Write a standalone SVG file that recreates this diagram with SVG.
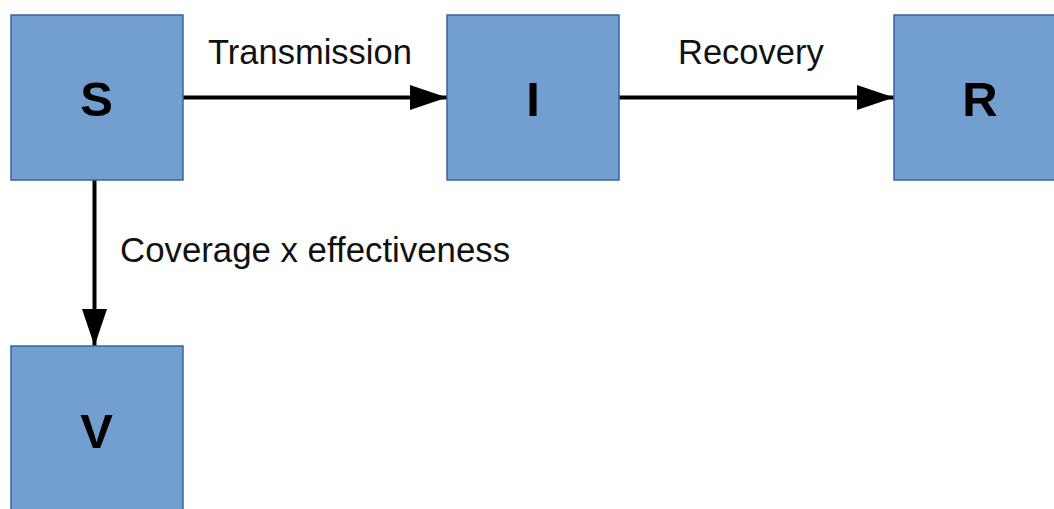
<svg xmlns="http://www.w3.org/2000/svg" width="1054" height="509" viewBox="0 0 1054 509">
  <style>
    .box { fill: #729fcf; stroke: #3465a4; stroke-width: 1.5; }
    .name { font-family: "Liberation Sans", Arial, sans-serif; font-weight: bold; font-size: 49px; fill: #000; text-anchor: middle; }
    .label { font-family: "Liberation Sans", Arial, sans-serif; font-size: 34.5px; fill: #111; }
    .edge { stroke: #000; stroke-width: 4; fill: none; }
  </style>
  <defs>
    <marker id="arrow" markerUnits="userSpaceOnUse" markerWidth="40" markerHeight="26" refX="37" refY="12.5" orient="auto">
      <path d="M0,0 L37,12.5 L0,25 Z" fill="#000"/>
    </marker>
  </defs>
  <rect width="1054" height="509" fill="#fff"/>

  <g id="connectors">
    <line class="edge" x1="183" y1="97.5" x2="447" y2="97.5" marker-end="url(#arrow)"/>
    <line class="edge" x1="619" y1="97.5" x2="894" y2="97.5" marker-end="url(#arrow)"/>
    <line class="edge" x1="94.5" y1="180" x2="94.5" y2="346" marker-end="url(#arrow)"/>
    <text class="label" x="208" y="64">Transmission</text>
    <text class="label" x="678" y="64">Recovery</text>
    <text class="label" x="120" y="262" style="font-size:34.8px">Coverage x effectiveness</text>
  </g>

  <g id="node-S">
    <rect class="box" x="11" y="15" width="172" height="165"/>
    <text class="name" x="96.5" y="115.5">S</text>
  </g>
  <g id="node-I">
    <rect class="box" x="447" y="15" width="172" height="165"/>
    <text class="name" x="533" y="115.5">I</text>
  </g>
  <g id="node-R">
    <rect class="box" x="894" y="15" width="172" height="165"/>
    <text class="name" x="980" y="115.5">R</text>
  </g>
  <g id="node-V">
    <rect class="box" x="11" y="346" width="172" height="165"/>
    <text class="name" x="96.5" y="448">V</text>
  </g>
</svg>
